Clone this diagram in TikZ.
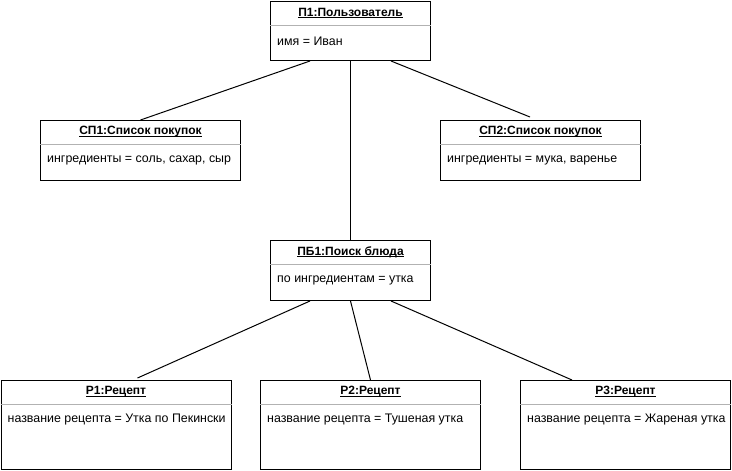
\documentclass[tikz,border=0pt]{standalone}
\usepackage{fontspec}
\setmainfont{Liberation Sans}
\usetikzlibrary{calc}
\tikzset{
 obj/.style={draw=black, line width=1pt, fill=white, anchor=north west, inner sep=0pt},
 ttl/.style={font=\fontsize{12}{14}\selectfont\bfseries, anchor=center, inner sep=0pt},
 attr/.style={font=\fontsize{12.4}{14}\selectfont, anchor=west, inner sep=0pt},
 sep/.style={draw=black!30, line width=1pt},
 link/.style={draw=black, line width=1pt}
}
\newcommand\ulmark[1]{\setbox0\hbox{#1}\rlap{\rule[-1.6pt]{\wd0}{0.9pt}}\box0}
\newcommand\umlobj[7]{%
 \node[obj, minimum width=#4pt, minimum height=#5pt] (#1) at (#2,#3) {};
 \draw[sep] ($(#1.north west)+(0,24)$) -- ($(#1.north east)+(0,24)$);
 \node[ttl] (#1t) at ($(#1.north)+(0,12)$) {\ulmark{#6}};
 \node[attr] (#1a) at ($(#1.north west)+(7,40)$) {#7};
}
\begin{document}
\begin{tikzpicture}[x=1pt,y=-1pt]
\useasboundingbox (0,0) rectangle (732,471);
\umlobj{p1}{270}{1}{160}{59}{П1:Пользователь}{имя = Иван}
\umlobj{sp1}{40}{120}{200}{60}{СП1:Список покупок}{ингредиенты = соль, сахар, сыр}
\umlobj{sp2}{440}{120}{200}{60}{СП2:Список покупок}{ингредиенты = мука, варенье}
\umlobj{pb1}{270}{240}{160}{60}{ПБ1:Поиск блюда}{по ингредиентам = утка}
\umlobj{r1}{0.5}{380}{230}{89}{Р1:Рецепт}{название рецепта = Утка по Пекински}
\umlobj{r2}{260}{380}{220}{89}{Р2:Рецепт}{название рецепта = Тушеная утка}
\umlobj{r3}{520}{380}{210}{89}{Р3:Рецепт}{название рецепта = Жареная утка}
\draw[link] ($(p1.south west)+(40,0)$) -- (sp1.north);
\draw[link] (p1.south) -- (pb1.north);
\draw[link] ($(p1.south east)+(-40,0)$) -- ($(sp2.north west)+(90,-3)$);
\draw[link] ($(pb1.south west)+(40,0)$) -- ($(r1.north west)+(137,-2)$);
\draw[link] (pb1.south) -- (r2.north);
\draw[link] ($(pb1.south east)+(-40,0)$) -- ($(r3.north west)+(52,0)$);
\end{tikzpicture}
\end{document}
